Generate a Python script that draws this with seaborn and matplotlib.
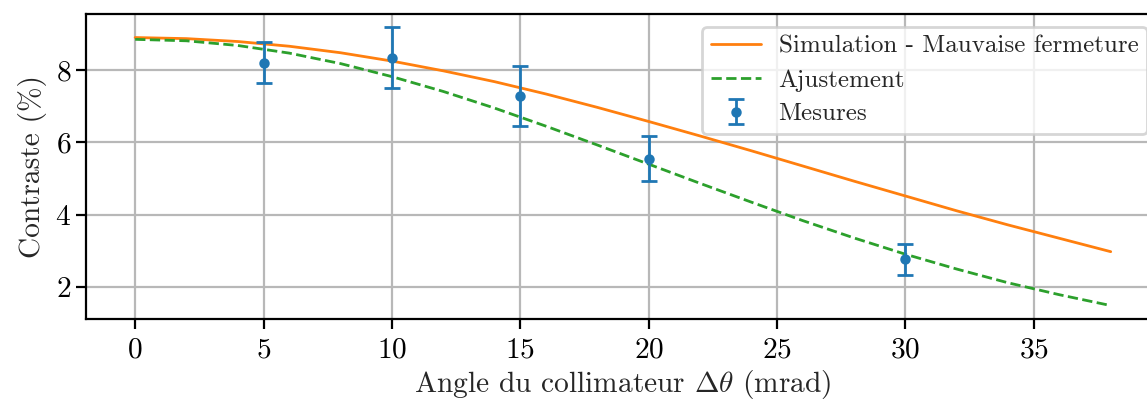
import matplotlib
matplotlib.use("Agg")
import matplotlib.pyplot as plt
import seaborn as sns
import numpy as np

# Measurements
theta_meas = [5, 10, 15, 20, 30]
contrast_meas = [8.20, 8.34, 7.28, 5.55, 2.77]
contrast_err = [0.57, 0.84, 0.83, 0.62, 0.43]

# Curves
theta_curve = [0, 2, 4, 6, 8, 10, 12, 14, 16, 18, 20, 22, 24, 26, 28, 30, 32, 34, 36, 38]
simulation = [8.90, 8.87, 8.79, 8.66, 8.48, 8.25, 7.98, 7.68, 7.34, 6.97, 6.58,
              6.18, 5.77, 5.35, 4.93, 4.52, 4.11, 3.72, 3.35, 2.98]
ajustement = [8.85, 8.81, 8.68, 8.47, 8.18, 7.82, 7.41, 6.95, 6.45, 5.93, 5.40,
              4.87, 4.35, 3.84, 3.36, 2.91, 2.50, 2.12, 1.79, 1.49]

x_ticks = [0, 5, 10, 15, 20, 25, 30, 35]
y_ticks = [2, 4, 6, 8]

FS = 10.6
LFS = 9.0
sns.set_style("ticks")
plt.rcParams.update({
    "font.family": "serif",
    "font.serif": ["cmr10", "DejaVu Serif"],
    "mathtext.fontset": "cm",
    "axes.formatter.use_mathtext": True,
    "font.size": FS,
    "axes.labelsize": FS,
    "xtick.labelsize": FS,
    "ytick.labelsize": FS,
    "legend.fontsize": LFS,
    "axes.edgecolor": "black",
    "axes.linewidth": 0.8,
    "xtick.color": "black",
    "ytick.color": "black",
    "xtick.major.size": 3.5,
    "ytick.major.size": 3.5,
    "xtick.major.width": 0.8,
    "ytick.major.width": 0.8,
    "xtick.major.pad": 3.0,
    "ytick.major.pad": 2.0,
})

fig = plt.figure(figsize=(5.735, 2.005), dpi=200)
ax = fig.add_axes([0.0753, 0.2037, 0.9356, 0.7613])

sns.lineplot(x=theta_curve, y=simulation, ax=ax, color="#ff7f0e", lw=1.0,
             label="Simulation - Mauvaise fermeture")
sns.lineplot(x=theta_curve, y=ajustement, ax=ax, color="#2ca02c", lw=1.0,
             linestyle="--", label="Ajustement")
ax.errorbar(theta_meas, contrast_meas, yerr=contrast_err, fmt=".", color="#1f77b4",
            capsize=3, elinewidth=1.0, capthick=1.0, ms=5.5, label="Mesures")

ax.set_xlim(-1.9, 39.9)
ax.set_ylim(1.11, 9.55)
ax.set_xticks(x_ticks)
ax.set_yticks(y_ticks)
ax.grid(True, color="#b8b8b8", lw=0.8)
ax.set_axisbelow(True)
ax.set_xlabel(r"Angle du collimateur $\Delta\theta$ (mrad)", labelpad=1.5)
ax.set_ylabel("Contraste (%)", labelpad=3.0)
ax.legend(loc="upper right", frameon=True, fancybox=True, framealpha=0.8,
          edgecolor="#cccccc", handlelength=2.0, handletextpad=0.7,
          labelspacing=0.45, borderpad=0.35)
for s in ax.spines.values():
    s.set_visible(True)

fig.savefig("out.png", dpi=200)
